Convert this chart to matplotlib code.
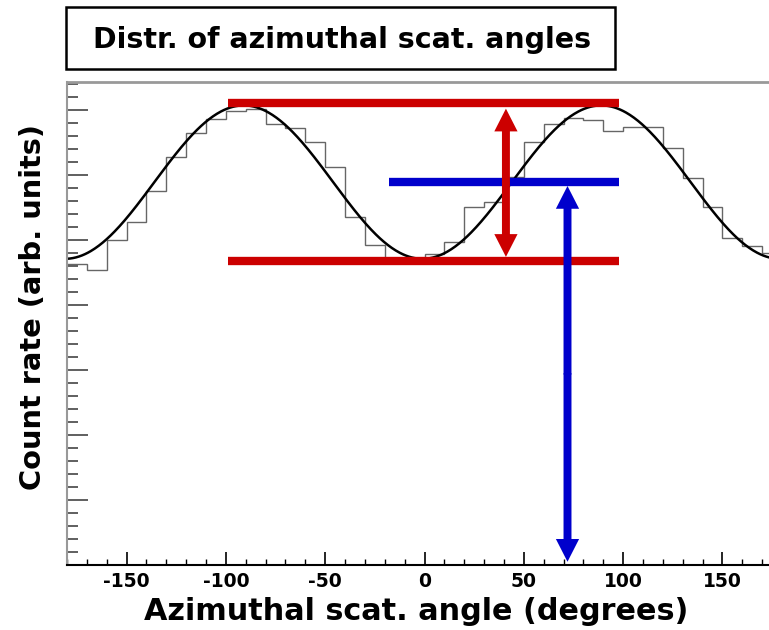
import numpy as np
import matplotlib
matplotlib.use("Agg")
import matplotlib.pyplot as plt
from matplotlib.patches import Rectangle

plt.rcParams["axes.unicode_minus"] = False
plt.rcParams["font.family"] = ["DejaVu Sans"]

# histogram of azimuthal scattering angles, 10 degree bins (arb. units)
bin_edges = np.arange(-180, 181, 10)
counts = [463, 454, 500, 528, 575, 628, 665, 686, 698, 702,
          678, 673, 651, 613, 535, 492, 465, 472, 478, 497,
          551, 559, 597, 650, 679, 687, 685, 667, 674, 674,
          642, 595, 551, 503, 490, 480]

# cos(2 phi) fit parameters
fit_mean = 589
fit_ampl = 118
fit_phase = 89

# annotation levels
red_top = 710
red_bottom = 468
blue_level = 589
red_x = (-99, 98)
blue_x = (-18, 98)
red_arrow_x = 41
red_arrow_ends = (474, 702)
blue_arrow_x = 72
blue_arrow_ends = (5, 583)

RED = "#cc0000"
BLUE = "#0000cc"

fig = plt.figure(figsize=(7.69, 6.30), dpi=100)
ax = fig.add_axes([67 / 769, 65 / 630, 715 / 769, 483 / 630])

ax.stairs(counts, bin_edges, baseline=None, color="#666666", lw=1.0)

phi = np.linspace(-180, 180, 721)
fit = fit_mean + fit_ampl * np.cos(np.radians(2 * (phi - fit_phase)))
ax.plot(phi, fit, color="black", lw=1.8)

# horizontal levels
ax.plot(red_x, [red_top, red_top], color=RED, lw=6, solid_capstyle="butt")
ax.plot(red_x, [red_bottom, red_bottom], color=RED, lw=6, solid_capstyle="butt")
ax.plot(blue_x, [blue_level, blue_level], color=BLUE, lw=6, solid_capstyle="butt")


def double_arrow(x, y0, y1, color):
    mid = 0.5 * (y0 + y1)
    for end in (y0, y1):
        start = mid + np.sign(end - mid) * -1.0
        ax.arrow(x, start, 0, end - start, width=4.0, head_width=11.7,
                 head_length=35, length_includes_head=True,
                 color=color, lw=0, zorder=5)


double_arrow(red_arrow_x, *red_arrow_ends, RED)
double_arrow(blue_arrow_x, *blue_arrow_ends, BLUE)

ax.set_xlim(-180, 180)
ax.set_ylim(0, 743)
ax.set_xticks(np.arange(-150, 151, 50))
ax.set_xticks(np.arange(-180, 181, 10), minor=True)
ax.set_yticks(np.arange(0, 743, 100))
ax.set_yticks(np.arange(0, 743, 20), minor=True)
ax.tick_params(axis="x", which="major", direction="in", length=9.5, width=1.2,
               pad=5, labelsize=13.5)
ax.tick_params(axis="x", which="minor", direction="in", length=4.5, width=1.0)
ax.tick_params(axis="y", which="major", direction="in", length=15, width=1.2,
               color="#444444", labelleft=False)
ax.tick_params(axis="y", which="minor", direction="in", length=8, width=1.2,
               color="#444444")
for lab in ax.get_xticklabels():
    lab.set_fontweight("bold")

ax.spines["left"].set_color("#999999")
ax.spines["left"].set_linewidth(1.5)
ax.spines["top"].set_color("#999999")
ax.spines["top"].set_linewidth(2.0)
ax.spines["bottom"].set_linewidth(1.5)

fig.text(416 / 769, 1 - 620 / 630, "Azimuthal scat. angle (degrees)",
         ha="center", va="baseline", fontsize=21.8, fontweight="bold")
fig.text(33 / 769, 1 - 307 / 630, "Count rate (arb. units)", rotation=90,
         ha="center", va="center", fontsize=20.8, fontweight="bold")

fig.patches.append(Rectangle((66 / 769, 1 - 69 / 630), 549 / 769, 62 / 630,
                             transform=fig.transFigure, fill=False,
                             edgecolor="black", lw=1.8))
fig.text(342 / 769, 1 - 48.5 / 630, "Distr. of azimuthal scat. angles",
         ha="center", va="baseline", fontsize=20.5, fontweight="bold")

fig.savefig("out.png", dpi=100)
